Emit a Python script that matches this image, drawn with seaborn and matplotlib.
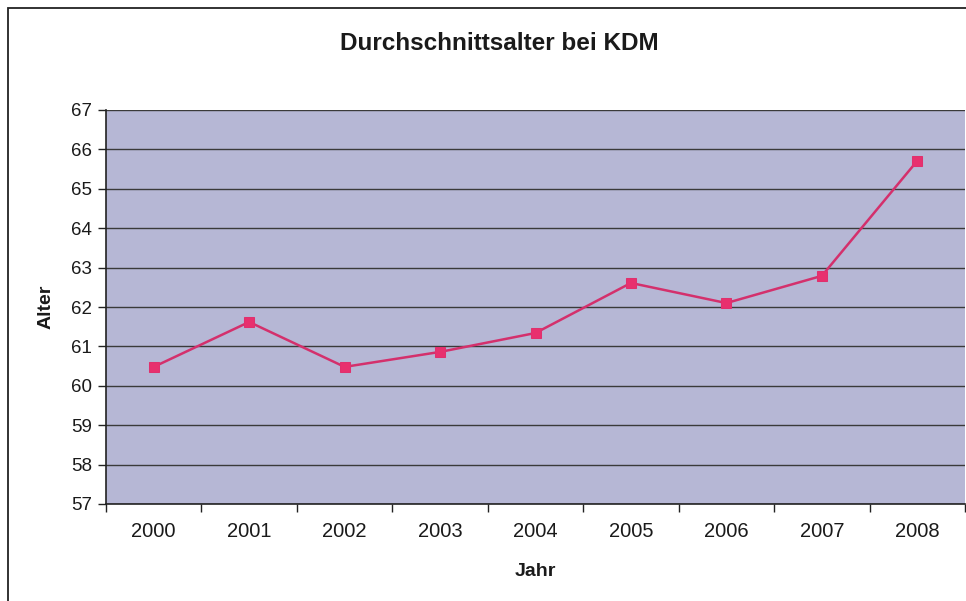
import matplotlib
matplotlib.use("Agg")
import matplotlib.pyplot as plt
from matplotlib.patches import Rectangle
from matplotlib.ticker import FixedLocator
import seaborn as sns
import pandas as pd

years = [2000, 2001, 2002, 2003, 2004, 2005, 2006, 2007, 2008]
alter = [60.48, 61.62, 60.48, 60.86, 61.34, 62.61, 62.10, 62.79, 65.71]
y_ticks = [57, 58, 59, 60, 61, 62, 63, 64, 65, 66, 67]

title = "Durchschnittsalter bei KDM"
xlabel = "Jahr"
ylabel = "Alter"

sns.set_theme(style="white")
plt.rcParams['font.family'] = ['Liberation Sans', 'DejaVu Sans']

df = pd.DataFrame({"Jahr": years, "Alter": alter})

fig = plt.figure(figsize=(9.66, 6.01), dpi=100)
fig.patch.set_facecolor("white")

# outer chart frame
fig.patches.append(Rectangle((8/966, -0.1), 1.2, (601-8)/601 + 0.1,
                             transform=fig.transFigure, fill=False,
                             edgecolor="#222222", linewidth=1.3, zorder=0))

ax = fig.add_axes([106/966, 97/601, 859/966, 394/601])
ax.set_facecolor("#b6b7d5")

sns.lineplot(data=df, x="Jahr", y="Alter", ax=ax, color="#d4306c",
             linewidth=1.8, marker="s", markersize=7,
             markeredgecolor="#e0306e", markerfacecolor="#e8306e", zorder=3)

ax.set_xlim(years[0] - 0.5, years[-1] + 0.5)
ax.set_ylim(y_ticks[0], y_ticks[-1])
ax.set_yticks(y_ticks)
ax.set_xticks(years)
ax.set_xticklabels([str(y) for y in years])
ax.xaxis.set_minor_locator(FixedLocator([y + 0.5 for y in [years[0] - 1] + years]))

ax.grid(axis="y", color="#3a3a3a", linewidth=1.0)
ax.set_axisbelow(True)

for s in ["top", "right"]:
    ax.spines[s].set_visible(False)
for s in ["left", "bottom"]:
    ax.spines[s].set_color("#222222")
    ax.spines[s].set_linewidth(1.2)

ax.tick_params(axis="y", which="major", direction="out", length=6, width=1,
               color="#222222", labelsize=13.5, labelcolor="#1a1a1a", pad=4, left=True)
ax.tick_params(axis="x", which="major", length=0, labelsize=14.5,
               labelcolor="#1a1a1a", pad=13)
ax.tick_params(axis="x", which="minor", direction="out", length=6, width=1,
               color="#222222", bottom=True)

ax.set_xlabel(xlabel, fontsize=14, fontweight="bold", labelpad=16, color="#1a1a1a")
ax.set_ylabel(ylabel, fontsize=14, fontweight="bold", labelpad=12, color="#1a1a1a")

fig.text(499/966, 1 - 43/601, title, ha="center", va="center",
         fontsize=17.5, fontweight="bold", color="#1a1a1a")

fig.savefig("out.png", dpi=100)
